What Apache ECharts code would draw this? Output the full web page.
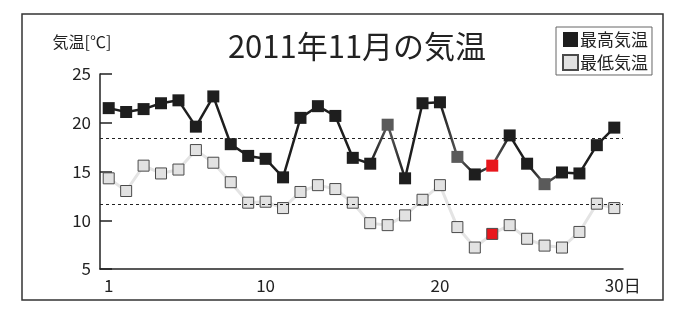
<!DOCTYPE html>
<html>
<head>
<meta charset="utf-8">
<script src="https://cdn.jsdelivr.net/npm/echarts@6/dist/echarts.min.js"></script>
<style>
html, body { margin: 0; padding: 0; background: #fff; }
#main { width: 684px; height: 311px; }
</style>
</head>
<body>
<div id="main"></div>
<script>
// データ
var days = ['1', '2', '3', '4', '5', '6', '7', '8', '9', '10',
            '11', '12', '13', '14', '15', '16', '17', '18', '19', '20',
            '21', '22', '23', '24', '25', '26', '27', '28', '29', '30'];
var maxTemp = [21.5, 21.1, 21.4, 22.0, 22.3, 19.6, 22.7, 17.8, 16.6, 16.3,
               14.4, 20.5, 21.7, 20.7, 16.4, 15.8, 19.8, 14.3, 22.0, 22.1,
               16.5, 14.7, 15.6, 18.7, 15.8, 13.7, 14.9, 14.8, 17.7, 19.5];
var minTemp = [14.3, 13.0, 15.6, 14.8, 15.2, 17.2, 15.9, 13.9, 11.8, 11.9,
               11.25, 12.9, 13.6, 13.2, 11.8, 9.7, 9.5, 10.5, 12.1, 13.6,
               9.3, 7.2, 8.6, 9.5, 8.1, 7.4, 7.2, 8.8, 11.7, 11.25];
var yTicks = [5, 10, 15, 20, 25];
var xLabels = ['1', '10', '20', '30'];
var grayDays = ['17', '21', '26'];
var redDays = ['23'];

var FONT = '"Liberation Sans Narrow", "Noto Sans CJK JP", sans-serif';
var JFONT = '"Noto Sans CJK JP", sans-serif';
var BLACK = '#1e1e1e', GRAY = '#5a5a5a', RED = '#e8161c';

function mean(arr) {
    var s = 0;
    arr.forEach(function (v) { s += v; });
    return s / arr.length;
}

var chart = echarts.init(document.getElementById('main'));

var maxData = maxTemp.map(function (v, i) {
    var c = BLACK;
    if (grayDays.indexOf(days[i]) >= 0) c = GRAY;
    if (redDays.indexOf(days[i]) >= 0) c = RED;
    return { value: v, itemStyle: { color: c } };
});
var minData = minTemp.map(function (v, i) {
    if (redDays.indexOf(days[i]) >= 0) {
        return { value: v, itemStyle: { color: RED } };
    }
    return v;
});
// 線の色: 灰色・赤の点の付近は灰色
var stops = days.map(function (d, i) {
    var gray = grayDays.indexOf(d) >= 0 || redDays.indexOf(d) >= 0;
    return { offset: i / (days.length - 1), color: gray ? GRAY : BLACK };
});

chart.setOption({
    animation: false,
    title: {
        text: '2011年11月の気温',
        left: 352,
        textAlign: 'center',
        top: 26,
        textStyle: { fontFamily: FONT, fontSize: 31, fontWeight: 'normal', color: '#222' }
    },
    legend: {
        orient: 'vertical',
        left: 556,
        top: 27,
        padding: [4, 4, 4, 6],
        itemGap: 6,
        itemWidth: 15,
        itemHeight: 15,
        borderColor: '#666',
        borderWidth: 1,
        borderRadius: 0,
        icon: 'rect',
        textStyle: { fontFamily: JFONT, fontSize: 17, color: '#222', padding: [0, 0, 0, -3] },
        data: ['最高気温', '最低気温']
    },
    graphic: [{
        type: 'rect',
        shape: { x: 22, y: 14, width: 641, height: 286 },
        style: { fill: 'none', stroke: '#333', lineWidth: 1.5 },
        silent: true
    }],
    grid: { left: 100, right: 61, top: 74, bottom: 42 },
    xAxis: {
        type: 'category',
        data: days,
        boundaryGap: true,
        axisLine: { lineStyle: { color: '#222', width: 1.5 } },
        axisTick: { inside: true, alignWithLabel: true, interval: 0, length: 4, lineStyle: { color: '#222' } },
        axisLabel: {
            interval: function (idx, v) { return xLabels.indexOf(v) >= 0; },
            formatter: function (v) { return v === '30' ? '{p| }30日' : v; },
            rich: { p: { width: 17 } },
            fontFamily: FONT,
            fontSize: 17,
            color: '#222',
            margin: 8
        },
        splitLine: { show: false }
    },
    yAxis: {
        type: 'value',
        min: yTicks[0],
        max: yTicks[yTicks.length - 1],
        interval: yTicks[1] - yTicks[0],
        name: '気温[℃]',
        nameLocation: 'end',
        nameGap: 24,
        nameTextStyle: { fontFamily: JFONT, fontSize: 16, color: '#222', padding: [0, 36, 0, 0] },
        axisLine: { show: true, lineStyle: { color: '#222', width: 1.5 } },
        axisTick: { show: true, inside: true, length: 12, lineStyle: { color: '#222', width: 1.5 } },
        axisLabel: { fontFamily: FONT, fontSize: 17, color: '#222', margin: 9 },
        splitLine: { show: false }
    },
    series: [
        {
            // 平均の破線
            type: 'line',
            data: [],
            z: 1,
            silent: true,
            markLine: {
                symbol: 'none',
                silent: true,
                label: { show: false },
                lineStyle: { color: '#222', type: [3, 3], width: 1.2 },
                data: [{ yAxis: mean(maxTemp) }, { yAxis: mean(minTemp) }]
            }
        },
        {
            name: '最低気温',
            type: 'line',
            data: minData,
            z: 2,
            symbol: 'rect',
            symbolSize: 11,
            showAllSymbol: true,
            lineStyle: { color: '#e4e4e4', width: 3 },
            itemStyle: { color: '#e2e2e2', borderColor: '#4a4a4a', borderWidth: 1 }
        },
        {
            name: '最高気温',
            type: 'line',
            data: maxData,
            z: 3,
            symbol: 'rect',
            symbolSize: 12,
            showAllSymbol: true,
            lineStyle: {
                width: 2.5,
                color: { type: 'linear', x: 0, y: 0, x2: 1, y2: 0, colorStops: stops }
            },
            itemStyle: { color: BLACK }
        }
    ]
});
</script>
</body>
</html>
